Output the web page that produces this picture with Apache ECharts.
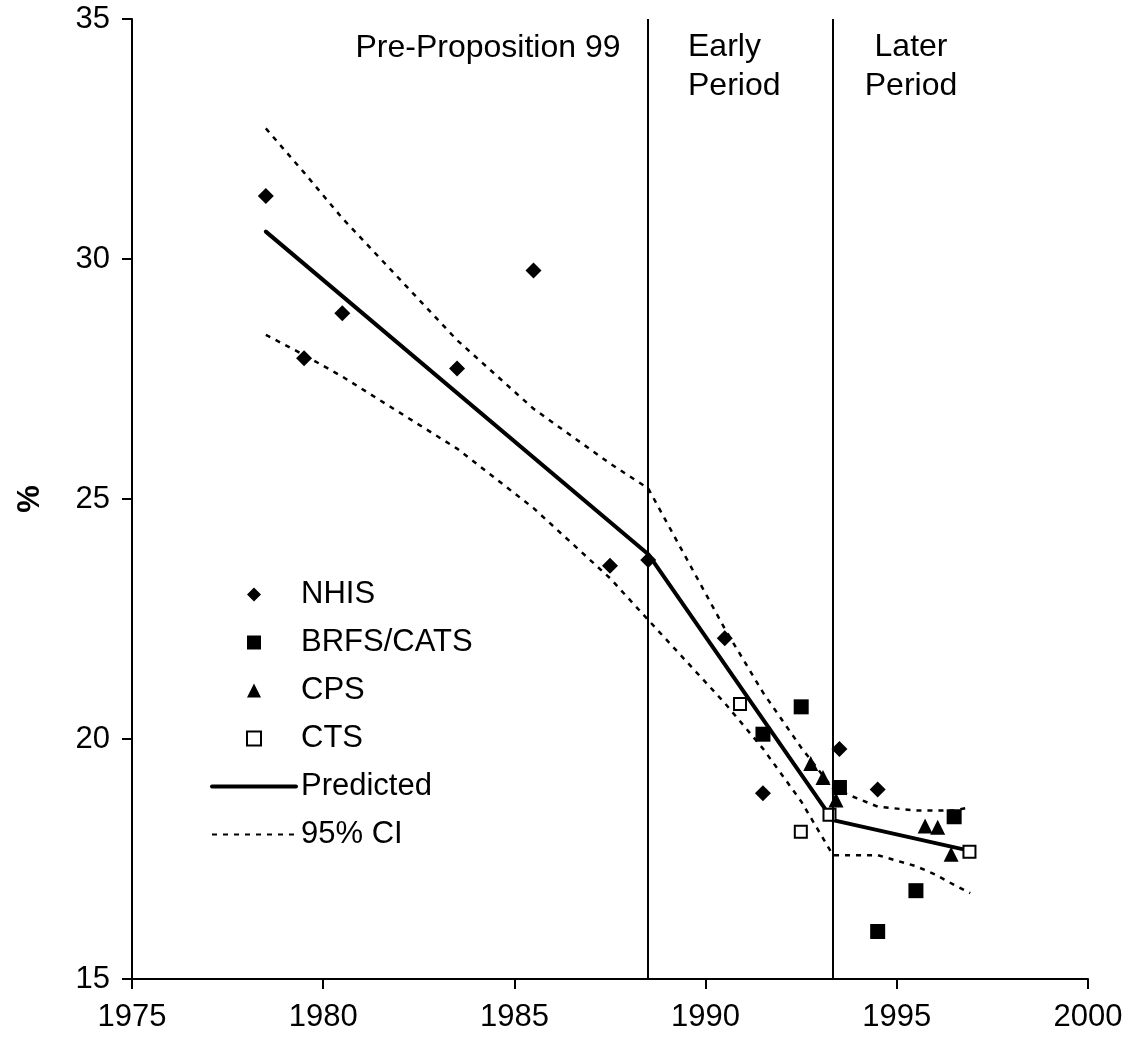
<!DOCTYPE html>
<html><head><meta charset="utf-8">
<script src="https://cdn.jsdelivr.net/npm/echarts@6/dist/echarts.min.js"></script>
<style>html,body{margin:0;padding:0;background:#fff}#c{width:1132px;height:1051px}</style>
</head><body><div id="c"></div>
<script>
// ---- data ----
const xRange = [1975, 2000];
const yRange = [15, 35];
const periodBreaks = [1988.5, 1993.33];
const periodLabels = ['Pre-Proposition 99', 'Early\nPeriod', 'Later\nPeriod'];

const nhis = [[1978.5,31.31],[1979.5,27.93],[1980.5,28.87],[1983.5,27.72],[1985.5,29.76],
  [1987.5,23.61],[1988.5,23.73],[1990.5,22.10],[1991.5,18.87],[1993.5,19.79],[1994.5,18.95]];
const brfs = [[1991.5,20.10],[1992.5,20.67],[1993.5,18.99],[1994.5,15.99],[1995.5,16.84],[1996.5,18.38]];
const cps = [[1992.75,19.49],[1993.07,19.20],[1993.41,18.73],[1995.74,18.19],[1996.07,18.16],[1996.42,17.60]];
const cts = [[1990.9,20.73],[1992.49,18.07],[1993.24,18.42],[1996.9,17.65]];
const predicted = [[1978.5,30.57],[1988.5,23.85],[1993.33,18.31],[1996.92,17.67]];
const ciUpper = [[1978.5,32.72],[1979.5,31.80],[1980.5,30.85],[1983.5,28.31],[1985.5,26.88],[1987.5,25.74],
  [1988.5,25.22],[1990.5,22.30],[1991.5,20.97],[1992.5,19.82],[1993.33,18.97],[1994.5,18.59],
  [1995.5,18.51],[1996.5,18.51],[1996.92,18.58]];
const ciLower = [[1978.5,28.42],[1979.5,28.0],[1980.5,27.55],[1983.5,26.05],[1985.5,24.81],[1987.5,23.35],
  [1988.5,22.48],[1990.5,20.75],[1991.5,19.80],[1992.5,18.70],[1993.33,17.58],[1994.5,17.58],
  [1995.5,17.35],[1996.0,17.18],[1996.5,16.96],[1996.92,16.79]];

const FONT = "'Liberation Sans', Arial, sans-serif";
const chart = echarts.init(document.getElementById('c'), null, {renderer:'canvas'});
const axisText = {color:'#000', fontFamily:FONT, fontSize:31};
const dashed = [5,6];
const labelFont = '32px ' + FONT;

chart.setOption({
  animation:false,
  backgroundColor:'#fff',
  grid:{left:132, right:44, top:19, bottom:72, containLabel:false},
  xAxis:{type:'value', min:xRange[0], max:xRange[1], interval:5,
    axisLine:{lineStyle:{color:'#000', width:2}},
    axisTick:{show:true, inside:false, length:10, lineStyle:{color:'#000', width:2}},
    axisLabel:Object.assign({margin:23, formatter:v=>String(v)}, axisText),
    splitLine:{show:false}},
  yAxis:{type:'value', min:yRange[0], max:yRange[1], interval:5,
    name:'%', nameLocation:'middle', nameGap:86, nameRotate:90,
    nameTextStyle:{color:'#000', fontFamily:FONT, fontSize:31, fontWeight:'bold'},
    axisLine:{show:true, lineStyle:{color:'#000', width:2}},
    axisTick:{show:true, inside:false, length:10, lineStyle:{color:'#000', width:2}},
    axisLabel:Object.assign({margin:22}, axisText),
    splitLine:{show:false}},
  legend:{
    orient:'vertical', left:210, top:579, padding:0, itemWidth:84, itemHeight:14, itemGap:17,
    textStyle:{color:'#000', fontFamily:FONT, fontSize:31, lineHeight:31},
    selectedMode:false,
    data:[
      {name:'NHIS', icon:'path://M0,-1L1,0L0,1L-1,0Z', itemStyle:{color:'#000', opacity:1}},
      {name:'BRFS/CATS', icon:'path://M0,0H1V1H0Z', itemStyle:{color:'#000', opacity:1}},
      {name:'CPS', icon:'path://M0,-1L1,1H-1Z', itemStyle:{color:'#000', opacity:1}},
      {name:'CTS', icon:'path://M0,0H1V1H0Z', itemStyle:{color:'#fff', borderColor:'#000', borderWidth:2, opacity:1}},
      {name:'Predicted', itemStyle:{opacity:0}, lineStyle:{width:4, color:'#000', type:'solid'}},
      {name:'95% CI', itemStyle:{opacity:0}, lineStyle:{width:2, color:'#000', type:dashed}}
    ]
  },
  graphic:[
    {type:'text', x:488, y:48, style:{text:periodLabels[0], fill:'#000', font:labelFont, textAlign:'center', textVerticalAlign:'middle'}},
    {type:'text', x:688, y:67, style:{text:periodLabels[1], fill:'#000', font:labelFont, lineHeight:39, textAlign:'left', textVerticalAlign:'middle'}},
    {type:'text', x:911, y:67, style:{text:periodLabels[2], fill:'#000', font:labelFont, lineHeight:39, textAlign:'center', textVerticalAlign:'middle'}}
  ],
  series:[
    {name:'95% CI', type:'line', data:ciUpper, symbol:'none', z:2,
      itemStyle:{color:'#000'},
      lineStyle:{color:'#000', width:2.5, type:dashed},
      markLine:{silent:true, symbol:['none','none'], label:{show:false},
        lineStyle:{color:'#000', width:2, type:'solid'},
        data:periodBreaks.map(x=>({xAxis:x}))}},
    {name:'95% CI', type:'line', data:ciLower, symbol:'none', z:2,
      itemStyle:{color:'#000'},
      lineStyle:{color:'#000', width:2.5, type:dashed}},
    {name:'Predicted', type:'line', data:predicted, symbol:'none', z:3,
      itemStyle:{color:'#000'},
      lineStyle:{color:'#000', width:4, cap:'round', join:'round'}},
    {name:'NHIS', type:'scatter', data:nhis, symbol:'diamond', symbolSize:16, z:4,
      itemStyle:{color:'#000', opacity:1}},
    {name:'BRFS/CATS', type:'scatter', data:brfs, symbol:'rect', symbolSize:15, z:4,
      itemStyle:{color:'#000', opacity:1}},
    {name:'CPS', type:'scatter', data:cps, symbol:'triangle', symbolSize:[15,15], z:4,
      itemStyle:{color:'#000', opacity:1}},
    {name:'CTS', type:'scatter', data:cts, symbol:'rect', symbolSize:12, z:4,
      itemStyle:{color:'#fff', borderColor:'#000', borderWidth:2, opacity:1}}
  ]
});
</script></body></html>
